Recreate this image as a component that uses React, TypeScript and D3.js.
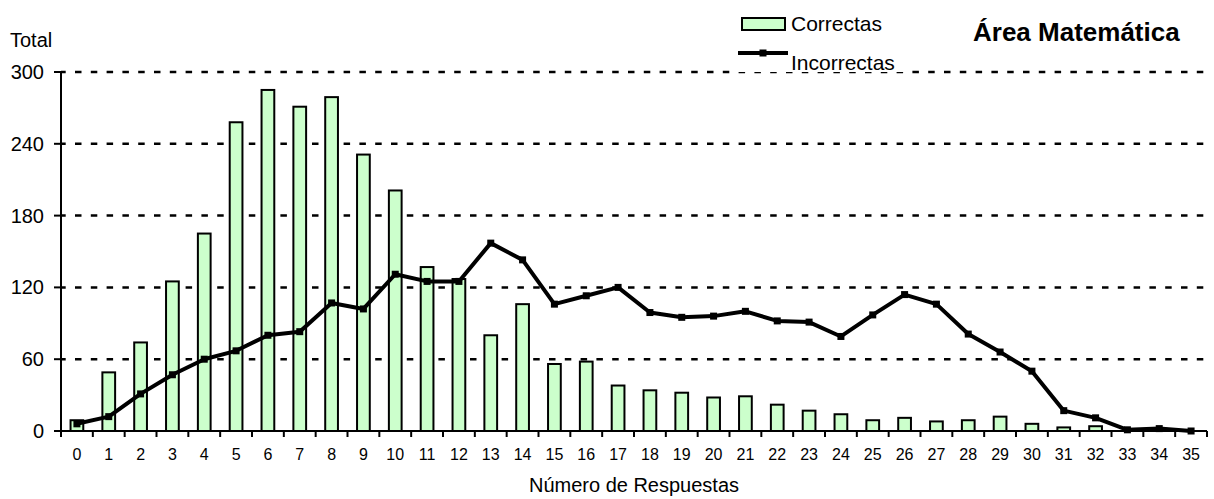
import React from "react";
import * as d3 from "d3";

const categories: string[] = Array.from({ length: 36 }, (_, i) => String(i));
const correctas: number[] = [9, 49, 74, 125, 165, 258, 285, 271, 279, 231, 201, 137, 127, 80, 106, 56, 58, 38, 34, 32, 28, 29, 22, 17, 14, 9, 11, 8, 9, 12, 6, 3, 4, 0, 0, 0];
const incorrectas: number[] = [6, 12, 31, 47, 60, 67, 80, 83, 107, 102, 131, 125, 125, 157, 143, 106, 113, 120, 99, 95, 96, 100, 92, 91, 79, 97, 114, 106, 81, 66, 50, 17, 11, 1, 2, 0];
const yTicks: number[] = [0, 60, 120, 180, 240, 300];
const seriesNames = ["Correctas", "Incorrectas"];
const title = "Área Matemática";
const yTitle = "Total";
const xTitle = "Número de Respuestas";

const W = 1214;
const H = 499;
const FONT = "'Liberation Sans', Arial, Helvetica, sans-serif";

export default function App() {
  const left = 61, right = 1207, top = 72, bottom = 431;
  const x = d3.scaleBand<string>().domain(categories).range([left, right]).paddingInner(0).paddingOuter(0);
  const y = d3.scaleLinear().domain([0, 300]).range([bottom, top]);
  const bw = x.bandwidth() * 0.4;
  const cx = (c: string) => (x(c) as number) + x.bandwidth() / 2;

  const line = d3
    .line<number>()
    .x((_, i) => cx(categories[i]))
    .y((d) => y(d));

  const boundaries = categories.map((c) => x(c) as number).concat([right]);
  const mk = 7;

  return (
    <svg width={W} height={H} style={{ position: "fixed", left: 0, top: 0, background: "#fff" }} fontFamily={FONT}>
      <rect x={0} y={0} width={W} height={H} fill="#fff" />
      {/* gridlines */}
      {yTicks.filter((t) => t > 0).map((t) => (
        <line key={"g" + t} x1={left} x2={right} y1={y(t)} y2={y(t)} stroke="#000" strokeWidth={2.5} strokeDasharray="6.5 9.3" strokeDashoffset={1.8} />
      ))}
      {/* bars */}
      {correctas.map((v, i) =>
        v > 0 ? (
          <rect key={"b" + i} x={cx(categories[i]) - bw / 2} y={y(v)} width={bw} height={y(0) - y(v)} fill="#ccffcc" stroke="#000" strokeWidth={2} />
        ) : null
      )}
      {/* axes */}
      <line x1={left} x2={left} y1={top} y2={bottom} stroke="#000" strokeWidth={2} />
      {yTicks.map((t) => (
        <g key={"yt" + t}>
          <line x1={left - 7} x2={left} y1={y(t)} y2={y(t)} stroke="#000" strokeWidth={2} />
          <text x={44} y={y(t)} dy="0.35em" textAnchor="end" fontSize={20}>
            {t}
          </text>
        </g>
      ))}
      <line x1={left - 7} x2={right} y1={bottom} y2={bottom} stroke="#000" strokeWidth={2} />
      {boundaries.map((bx, i) => (
        <line key={"xt" + i} x1={bx} x2={bx} y1={bottom} y2={bottom + 6} stroke="#000" strokeWidth={2} />
      ))}
      {categories.map((c) => (
        <text key={"xl" + c} x={cx(c)} y={460} textAnchor="middle" fontSize={16}>
          {c}
        </text>
      ))}
      {/* line series */}
      <path d={line(incorrectas) || ""} fill="none" stroke="#000" strokeWidth={4} strokeLinejoin="round" />
      {incorrectas.map((v, i) => (
        <rect key={"m" + i} x={cx(categories[i]) - mk / 2} y={y(v) - mk / 2} width={mk} height={mk} fill="#000" />
      ))}
      {/* titles */}
      <text x={10} y={47} fontSize={20}>
        {yTitle}
      </text>
      <text x={(left + right) / 2} y={492} textAnchor="middle" fontSize={20}>
        {xTitle}
      </text>
      <text x={973} y={41} fontSize={26} fontWeight="bold">
        {title}
      </text>
      {/* legend */}
      <rect x={733} y={0} width={174} height={72} fill="#fff" />
      <rect x={742} y={18} width={43} height={12} fill="#ccffcc" stroke="#000" strokeWidth={2} />
      <text x={791} y={31} fontSize={21}>
        {seriesNames[0]}
      </text>
      <line x1={738} x2={788} y1={53} y2={53} stroke="#000" strokeWidth={4} />
      <rect x={763 - mk / 2} y={53 - mk / 2} width={mk} height={mk} fill="#000" />
      <text x={791} y={70} fontSize={21}>
        {seriesNames[1]}
      </text>
    </svg>
  );
}
